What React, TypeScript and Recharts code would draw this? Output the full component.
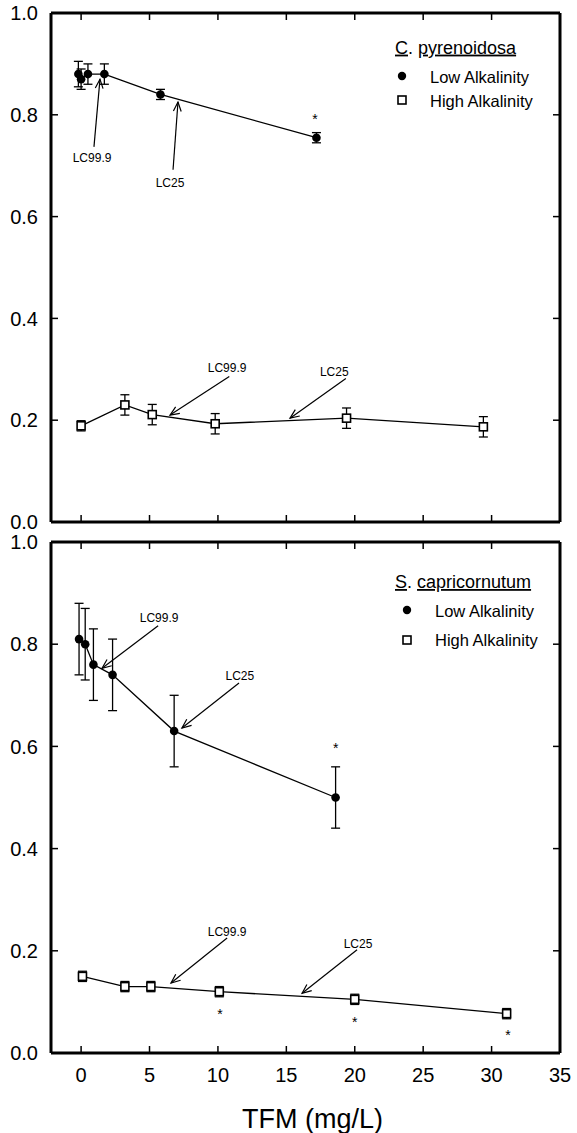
import React from 'react';
import { ComposedChart, Line, Scatter, XAxis, YAxis, ErrorBar, ReferenceLine, Legend } from 'recharts';

const FONT = '"Liberation Sans", Arial, Helvetica, sans-serif';

const xTicks = [0, 5, 10, 15, 20, 25, 30, 35];
const yTicks = [0, 0.2, 0.4, 0.6, 0.8, 1.0];
const xDomain = [-2.2, 35];
const yDomain = [0, 1];

// C. pyrenoidosa
const cpLowX = [-0.2, 0.0, 0.5, 1.7, 5.8, 17.2];
const cpLowY = [0.88, 0.87, 0.88, 0.88, 0.84, 0.755];
const cpLowErr = [0.025, 0.02, 0.02, 0.02, 0.01, 0.01];
const cpHighX = [0, 3.2, 5.2, 9.8, 19.4, 29.4];
const cpHighY = [0.189, 0.23, 0.211, 0.193, 0.204, 0.187];
const cpHighErr = [0.01, 0.02, 0.02, 0.02, 0.02, 0.02];
const cpStarX = [17.1];
const cpStarY = [0.798];

// S. capricornutum
const scLowX = [-0.15, 0.3, 0.9, 2.3, 6.8, 18.6];
const scLowY = [0.81, 0.8, 0.76, 0.74, 0.63, 0.5];
const scLowErr = [0.07, 0.07, 0.07, 0.07, 0.07, 0.06];
const scHighX = [0.1, 3.2, 5.1, 10.1, 20.0, 31.1];
const scHighY = [0.15, 0.13, 0.13, 0.12, 0.105, 0.077];
const scHighErr = [0.01, 0.01, 0.01, 0.01, 0.01, 0.01];
const scStarX = [18.6, 10.15, 20.0, 31.2];
const scStarY = [0.603, 0.082, 0.067, 0.041];

// LC annotations: label, text position, arrow tail, arrow tip
const noteLabels = ['LC99.9', 'LC25', 'LC99.9', 'LC25'];
const cpNoteText = [[0.8, 0.715], [6.5, 0.666], [10.67, 0.304], [18.5, 0.295]];
const cpNoteTail = [[0.94, 0.737], [6.72, 0.692], [10.83, 0.286], [19.35, 0.282]];
const cpNoteTip = [[1.38, 0.87], [7.08, 0.825], [6.5, 0.21], [15.27, 0.204]];
const scNoteText = [[5.7, 0.851], [11.6, 0.738], [10.67, 0.237], [20.24, 0.213]];
const scNoteTail = [[5.63, 0.836], [11.54, 0.724], [10.67, 0.225], [20.17, 0.202]];
const scNoteTip = [[1.53, 0.753], [7.37, 0.636], [6.57, 0.137], [16.15, 0.117]];

const cpTitle = ['C', 'pyrenoidosa'];
const scTitle = ['S', 'capricornutum'];
const legendLabels = ['Low Alkalinity', 'High Alkalinity'];

const zip = (xs: number[], ys: number[], es?: number[]) =>
  xs.map((x, i) => ({ x, y: ys[i], err: es ? es[i] : 0 }));

const circleDot = (p: any) => <circle key={`c${p.index}`} cx={p.cx} cy={p.cy} r={4.3} fill="#000" />;
const squareDot = (p: any) => (
  <rect key={`s${p.index}`} x={p.cx - 4} y={p.cy - 4} width={8} height={8} fill="#fff" stroke="#000" strokeWidth={1.6} />
);
const starShape = (p: any) => (
  <text x={p.cx} y={p.cy + 8} textAnchor="middle" fontSize={14} fontFamily={FONT} fill="#000">*</text>
);
const noteShape = (p: any) => (
  <text x={p.cx} y={p.cy + 4.3} textAnchor="middle" fontSize={12} fontFamily={FONT} fill="#000">
    {p.payload.label}
  </text>
);

function Arrow(props: any) {
  const { x1, y1, x2, y2 } = props;
  const ang = Math.atan2(y1 - y2, x1 - x2);
  const len = 10;
  const s = 0.4;
  const ax = x2 + len * Math.cos(ang + s);
  const ay = y2 + len * Math.sin(ang + s);
  const bx = x2 + len * Math.cos(ang - s);
  const by = y2 + len * Math.sin(ang - s);
  return (
    <g>
      <line x1={x1} y1={y1} x2={x2} y2={y2} stroke="#000" strokeWidth={1.2} />
      <polyline points={`${ax},${ay} ${x2},${y2} ${bx},${by}`} fill="none" stroke="#000" strokeWidth={1.2} />
    </g>
  );
}

// inward tick marks: only the two ends of a full-width reference line
function EndTicks(props: any) {
  const { x1, y1, x2, y2 } = props;
  const d = Math.hypot(x2 - x1, y2 - y1) || 1;
  const ux = ((x2 - x1) / d) * 7;
  const uy = ((y2 - y1) / d) * 7;
  return (
    <g>
      <line x1={x1} y1={y1} x2={x1 + ux} y2={y1 + uy} stroke="#000" strokeWidth={1.5} />
      <line x1={x2} y1={y2} x2={x2 - ux} y2={y2 - uy} stroke="#000" strokeWidth={1.5} />
    </g>
  );
}

function legendContent(title: string[], pos: any) {
  return () => (
    <svg width={190} height={95} style={{ display: 'block' }}>
      <text x={pos.title[0]} y={pos.title[1]} fontSize={18} fontFamily={FONT} fill="#000">
        <tspan textDecoration="underline">{title[0]}</tspan>
        <tspan>{'. '}</tspan>
        <tspan textDecoration="underline">{title[1]}</tspan>
      </text>
      <circle cx={pos.dot[0]} cy={pos.dot[1]} r={4.2} fill="#000" />
      <text x={pos.low[0]} y={pos.low[1]} fontSize={16.5} fontFamily={FONT} fill="#000">{legendLabels[0]}</text>
      <rect x={pos.sq[0] - 4} y={pos.sq[1] - 4} width={8} height={8} fill="#fff" stroke="#000" strokeWidth={1.6} />
      <text x={pos.high[0]} y={pos.high[1]} fontSize={16.5} fontFamily={FONT} fill="#000">{legendLabels[1]}</text>
    </svg>
  );
}

const frame = { stroke: '#000', strokeWidth: 3 };
const tickFont = { fill: '#000', fontSize: 20, fontFamily: FONT };

function Panel(props: any) {
  const { height, margin, xHeight, showX, low, high, stars, text, tail, tip, title, legendTop, legendPos } = props;
  const notes = text.map((t: number[], i: number) => ({ x: t[0], y: t[1], label: noteLabels[i] }));
  return (
    <ComposedChart width={577} height={height} margin={margin}>
      <XAxis
        type="number"
        dataKey="x"
        domain={xDomain}
        ticks={xTicks}
        interval={0}
        allowDataOverflow
        height={xHeight}
        axisLine={frame}
        tickLine={false}
        tickSize={0}
        tickMargin={15}
        tick={showX ? tickFont : false}
        label={showX ? { value: 'TFM (mg/L)', position: 'insideBottom', offset: 5, dx: 7, fontSize: 27, fill: '#000', fontFamily: FONT } : undefined}
      />
      <XAxis xAxisId="top" orientation="top" type="number" dataKey="x" domain={xDomain} ticks={xTicks} interval={0} allowDataOverflow height={1} axisLine={frame} tickLine={false} tick={false} />
      <YAxis
        type="number"
        domain={yDomain}
        ticks={yTicks}
        interval={0}
        allowDataOverflow
        width={51}
        axisLine={frame}
        tickLine={false}
        tickSize={0}
        tickMargin={13}
        tick={tickFont}
        tickFormatter={(v: number) => v.toFixed(1)}
      />
      <YAxis yAxisId="right" orientation="right" type="number" domain={yDomain} ticks={yTicks} interval={0} allowDataOverflow width={1} axisLine={frame} tickLine={false} tick={false} />
      <Legend layout="horizontal" verticalAlign="middle" align="center" wrapperStyle={{ position: 'absolute', left: 385, top: legendTop, width: 190, height: 95 }} content={legendContent(title, legendPos)} />
      {xTicks.slice(0, -1).map((t) => (
        <ReferenceLine key={`xt${t}`} x={t} shape={EndTicks} />
      ))}
      {yTicks.slice(1, -1).map((t) => (
        <ReferenceLine key={`yt${t}`} y={t} shape={EndTicks} />
      ))}
      {tail.map((t: number[], i: number) => (
        <ReferenceLine key={`n${i}`} segment={[{ x: t[0], y: t[1] }, { x: tip[i][0], y: tip[i][1] }]} shape={Arrow} ifOverflow="visible" />
      ))}
      <Line data={high} dataKey="y" type="linear" stroke="#000" strokeWidth={1.3} dot={squareDot} isAnimationActive={false}>
        <ErrorBar dataKey="err" width={4.5} stroke="#000" strokeWidth={1.3} direction="y" />
      </Line>
      <Line data={low} dataKey="y" type="linear" stroke="#000" strokeWidth={1.3} dot={circleDot} isAnimationActive={false}>
        <ErrorBar dataKey="err" width={4.5} stroke="#000" strokeWidth={1.3} direction="y" />
      </Line>
      <Scatter data={stars} dataKey="y" shape={starShape} isAnimationActive={false} />
      <Scatter data={notes} dataKey="y" xAxisId="top" yAxisId="right" shape={noteShape} isAnimationActive={false} />
    </ComposedChart>
  );
}

export default function App() {
  return (
    <div style={{ position: 'absolute', left: 0, top: 0, width: 577, height: 1133, background: '#fff', fontFamily: FONT }}>
      <div style={{ position: 'absolute', left: 0, top: 0 }}>
        <Panel
          height={540}
          margin={{ top: 12, right: 16, bottom: 17, left: 0 }}
          xHeight={1}
          showX={false}
          low={zip(cpLowX, cpLowY, cpLowErr)}
          high={zip(cpHighX, cpHighY, cpHighErr)}
          stars={zip(cpStarX, cpStarY)}
          text={cpNoteText}
          tail={cpNoteTail}
          tip={cpNoteTip}
          title={cpTitle}
          legendTop={30}
          legendPos={{ title: [10, 23.6], dot: [17, 46], low: [45, 52.7], sq: [17, 70], high: [45, 76.7] }}
        />
      </div>
      <div style={{ position: 'absolute', left: 0, top: 530 }}>
        <Panel
          height={603}
          margin={{ top: 11, right: 16, bottom: 0, left: 0 }}
          xHeight={80}
          showX
          low={zip(scLowX, scLowY, scLowErr)}
          high={zip(scHighX, scHighY, scHighErr)}
          stars={zip(scStarX, scStarY)}
          text={scNoteText}
          tail={scNoteTail}
          tip={scNoteTip}
          title={scTitle}
          legendTop={35}
          legendPos={{ title: [10, 23], dot: [22, 45], low: [50, 52], sq: [22, 75], high: [50, 81] }}
        />
      </div>
    </div>
  );
}
